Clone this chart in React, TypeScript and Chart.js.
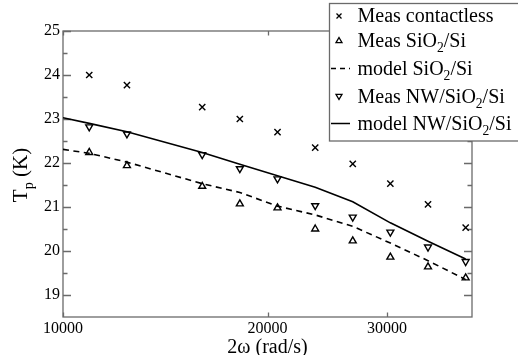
import React, { useEffect, useRef } from 'react';
import { Chart, registerables } from 'chart.js';

Chart.register(...registerables);

// ---- data ----
const omegaMeas = [10930, 12420, 16030, 18210, 20690, 23510, 26700, 30330, 34460, 39150];
const omegaModel = [10000, 10930, 12420, 16030, 18210, 20690, 23510, 26700, 30330, 34460, 39150];
const tpContactless = [24.0, 23.77, 23.27, 23.0, 22.7, 22.35, 21.98, 21.53, 21.06, 20.53];
const tpMeasSiO2 = [22.24, 21.94, 21.47, 21.07, 20.98, 20.5, 20.23, 19.86, 19.64, 19.39];
const tpModelSiO2 = [22.31, 22.22, 22.02, 21.53, 21.33, 21.02, 20.82, 20.56, 20.18, 19.78, 19.35];
const tpMeasNW = [22.82, 22.66, 22.19, 21.87, 21.64, 21.03, 20.77, 20.43, 20.09, 19.76];
const tpModelNW = [23.03, 22.9, 22.71, 22.24, 21.97, 21.71, 21.45, 21.12, 20.64, 20.22, 19.82];

const xTicks = [10000, 20000, 30000];
const yTicks = [19, 20, 21, 22, 23, 24, 25];
const yMinorTicks = [19.5, 20.5, 21.5, 22.5, 23.5, 24.5];

const legendLabels = [
  'Meas contactless',
  'Meas SiO_{2}/Si',
  'model SiO_{2}/Si',
  'Meas NW/SiO_{2}/Si',
  'model NW/SiO_{2}/Si',
];
const legendKinds = ['cross', 'tri-up', 'dash', 'tri-down', 'solid'];

const xTitle = '2ω (rad/s)';
const yTitle = 'T_{p} (K)';

const FONT = '"Liberation Serif", "DejaVu Serif", serif';

function toPts(xs: number[], ys: number[]) {
  return xs.map((x, i) => ({ x, y: ys[i] }));
}

function richWidth(ctx: CanvasRenderingContext2D, text: string, size: number) {
  const re = /_\{([^}]*)\}/g;
  let last = 0;
  let w = 0;
  let m: RegExpExecArray | null;
  while ((m = re.exec(text))) {
    ctx.font = `${size}px ${FONT}`;
    w += ctx.measureText(text.slice(last, m.index)).width;
    ctx.font = `${size * 0.68}px ${FONT}`;
    w += ctx.measureText(m[1]).width;
    last = re.lastIndex;
  }
  ctx.font = `${size}px ${FONT}`;
  w += ctx.measureText(text.slice(last)).width;
  return w;
}

function drawRich(ctx: CanvasRenderingContext2D, text: string, x: number, y: number, size: number) {
  const re = /_\{([^}]*)\}/g;
  let last = 0;
  let cx = x;
  let m: RegExpExecArray | null;
  ctx.textAlign = 'left';
  ctx.textBaseline = 'alphabetic';
  while ((m = re.exec(text))) {
    const pre = text.slice(last, m.index);
    ctx.font = `${size}px ${FONT}`;
    ctx.fillText(pre, cx, y);
    cx += ctx.measureText(pre).width;
    ctx.font = `${size * 0.68}px ${FONT}`;
    ctx.fillText(m[1], cx, y + size * 0.27);
    cx += ctx.measureText(m[1]).width;
    last = re.lastIndex;
  }
  const rest = text.slice(last);
  ctx.font = `${size}px ${FONT}`;
  ctx.fillText(rest, cx, y);
}

const framePlugin = {
  id: 'frameTicks',
  beforeDatasetsDraw(chart: any) {
    const { ctx, chartArea: a, scales } = chart;
    const xs = scales.x;
    const ys = scales.y;
    ctx.save();
    ctx.strokeStyle = '#6a6a6a';
    ctx.lineWidth = 1.3;
    ctx.strokeRect(a.left, a.top, a.right - a.left, a.bottom - a.top);
    ctx.beginPath();
    yTicks.forEach((v) => {
      const py = Math.round(ys.getPixelForValue(v)) + 0.5;
      ctx.moveTo(a.left, py);
      ctx.lineTo(a.left + 8, py);
      ctx.moveTo(a.right, py);
      ctx.lineTo(a.right - 8, py);
    });
    yMinorTicks.forEach((v) => {
      const py = Math.round(ys.getPixelForValue(v)) + 0.5;
      ctx.moveTo(a.left, py);
      ctx.lineTo(a.left + 4.5, py);
      ctx.moveTo(a.right, py);
      ctx.lineTo(a.right - 4.5, py);
    });
    xTicks.forEach((v) => {
      const px = Math.round(xs.getPixelForValue(v)) + 0.5;
      ctx.moveTo(px, a.bottom);
      ctx.lineTo(px, a.bottom - 4.5);
      ctx.moveTo(px, a.top);
      ctx.lineTo(px, a.top + 4.5);
    });
    ctx.stroke();
    ctx.restore();
  },
  afterDraw(chart: any) {
    const { ctx, chartArea: a } = chart;
    ctx.save();
    ctx.fillStyle = '#000';
    // x title
    ctx.font = `20px ${FONT}`;
    ctx.textAlign = 'center';
    ctx.textBaseline = 'alphabetic';
    ctx.fillText(xTitle, (a.left + a.right) / 2, 353);
    // y title (rotated)
    const ysize = 21;
    const w = richWidth(ctx, yTitle, ysize);
    ctx.save();
    ctx.translate(27, (a.top + a.bottom) / 2 + 1);
    ctx.rotate(-Math.PI / 2);
    drawRich(ctx, yTitle, -w / 2, 0, ysize);
    ctx.restore();

    // legend
    const bx = 329.5;
    const by = 3.5;
    const bw = 200;
    const bh = 137.5;
    ctx.fillStyle = '#fff';
    ctx.fillRect(bx, by, bw, bh);
    ctx.strokeStyle = '#6a6a6a';
    ctx.lineWidth = 1.3;
    ctx.strokeRect(bx, by, bw, bh);
    const baselines = [22, 46.5, 74.5, 102.5, 129.5];
    const lsize = 20;
    legendLabels.forEach((lab, i) => {
      const base = baselines[i];
      const cy = base - 6;
      const mx = 339;
      ctx.strokeStyle = '#000';
      ctx.fillStyle = '#000';
      ctx.lineWidth = 1.3;
      ctx.setLineDash([]);
      const kind = legendKinds[i];
      ctx.beginPath();
      if (kind === 'cross') {
        const s = 2.5;
        ctx.moveTo(mx - s, cy - s);
        ctx.lineTo(mx + s, cy + s);
        ctx.moveTo(mx + s, cy - s);
        ctx.lineTo(mx - s, cy + s);
        ctx.stroke();
      } else if (kind === 'tri-up') {
        ctx.moveTo(mx, cy - 3);
        ctx.lineTo(mx + 3, cy + 2.2);
        ctx.lineTo(mx - 3, cy + 2.2);
        ctx.closePath();
        ctx.stroke();
      } else if (kind === 'tri-down') {
        ctx.moveTo(mx, cy + 3);
        ctx.lineTo(mx + 3, cy - 2.2);
        ctx.lineTo(mx - 3, cy - 2.2);
        ctx.closePath();
        ctx.stroke();
      } else if (kind === 'dash') {
        ctx.lineWidth = 1.5;
        ctx.setLineDash([5, 4]);
        ctx.moveTo(331, cy);
        ctx.lineTo(350, cy);
        ctx.stroke();
        ctx.setLineDash([]);
      } else {
        ctx.lineWidth = 1.5;
        ctx.moveTo(331, cy);
        ctx.lineTo(350, cy);
        ctx.stroke();
      }
      ctx.fillStyle = '#000';
      drawRich(ctx, lab, 357.5, base, lsize);
    });
    ctx.restore();
  },
};

export default function App() {
  const ref = useRef<HTMLCanvasElement | null>(null);
  useEffect(() => {
    if (!ref.current) return;
    const chart = new Chart(ref.current, {
      type: 'scatter',
      data: {
        datasets: [
          {
            label: 'model NW/SiO2/Si',
            data: toPts(omegaModel, tpModelNW),
            showLine: true,
            borderColor: '#000',
            borderWidth: 1.6,
            pointRadius: 0,
            fill: false,
          },
          {
            label: 'model SiO2/Si',
            data: toPts(omegaModel, tpModelSiO2),
            showLine: true,
            borderColor: '#000',
            borderWidth: 1.6,
            borderDash: [6, 4.5],
            pointRadius: 0,
            fill: false,
          },
          {
            label: 'Meas contactless',
            data: toPts(omegaMeas, tpContactless),
            pointStyle: 'crossRot',
            pointRadius: 4.4,
            borderColor: '#000',
            borderWidth: 1.4,
            backgroundColor: 'rgba(0,0,0,0)',
          },
          {
            label: 'Meas SiO2/Si',
            data: toPts(omegaMeas, tpMeasSiO2),
            pointStyle: 'triangle',
            pointRadius: 4,
            borderColor: '#000',
            borderWidth: 1.4,
            backgroundColor: 'rgba(0,0,0,0)',
          },
          {
            label: 'Meas NW/SiO2/Si',
            data: toPts(omegaMeas, tpMeasNW),
            pointStyle: 'triangle',
            rotation: 180,
            pointRadius: 4,
            borderColor: '#000',
            borderWidth: 1.4,
            backgroundColor: 'rgba(0,0,0,0)',
          },
        ],
      },
      options: {
        responsive: true,
        maintainAspectRatio: false,
        animation: false,
        layout: { padding: { top: 31, right: 46, left: 0, bottom: 0 } },
        plugins: {
          legend: { display: false },
          tooltip: { enabled: false },
        },
        scales: {
          x: {
            type: 'logarithmic',
            min: 10000,
            max: 40000,
            grid: { display: false, drawTicks: false },
            border: { display: false },
            afterBuildTicks: (s: any) => {
              s.ticks = xTicks.map((v) => ({ value: v }));
            },
            afterFit: (s: any) => {
              s.height = 38;
            },
            ticks: {
              color: '#000',
              font: { family: FONT, size: 16 },
              padding: 2,
              maxRotation: 0,
              autoSkip: false,
              callback: (v: any) => String(v),
            },
          },
          y: {
            type: 'linear',
            min: 18.5,
            max: 25,
            grid: { display: false, drawTicks: false },
            border: { display: false },
            afterBuildTicks: (s: any) => {
              s.ticks = yTicks.map((v) => ({ value: v }));
            },
            afterFit: (s: any) => {
              s.width = 63;
            },
            ticks: {
              color: '#000',
              font: { family: FONT, size: 16 },
              padding: 3,
              callback: (v: any) => String(v),
            },
          },
        },
      },
      plugins: [framePlugin],
    });
    return () => chart.destroy();
  }, []);
  return (
    <div style={{ position: 'fixed', left: 0, top: 0, width: 518, height: 355, background: '#fff' }}>
      <canvas ref={ref} />
    </div>
  );
}
